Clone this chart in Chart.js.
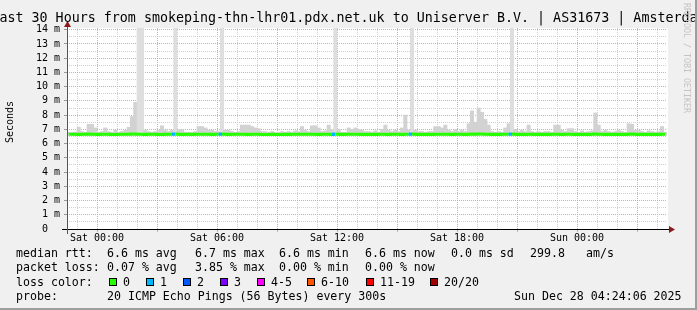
<!DOCTYPE html>
<html>
<head>
<meta charset="utf-8">
<script src="https://cdn.jsdelivr.net/npm/chart.js@4.4.1/dist/chart.umd.min.js"></script>
<style>
  html, body { margin: 0; padding: 0; background: #f0f0f0; }
  #wrap { position: relative; width: 697px; height: 310px; overflow: hidden; background: #f0f0f0;
          font-family: 'DejaVu Sans Mono', monospace; color: #000; }
  #wrap canvas { position: absolute; left: 0; top: 0; }
  .edgeR { position: absolute; right: 0; top: 0; width: 2px; height: 310px; background: #9e9e9e; }
  .edgeB { position: absolute; left: 0; bottom: 0; width: 697px; height: 2px; background: #9e9e9e; }
  .t { position: absolute; white-space: pre; }
  #title { left: 348.5px; top: 10px; transform: translateX(-50%); font-size: 13.33px; line-height: 16px; }
  #ylabel { left: -15px; top: 116px; width: 50px; text-align: center; font-size: 10px; line-height: 12px; transform: rotate(-90deg); }
  #mark { left: 682px; top: 3px; font-size: 8.3px; line-height: 10px; writing-mode: vertical-rl; color: #c4c4c4; }
  .leg { font-size: 11.6px; line-height: 14px; }
  .box { position: absolute; width: 6px; height: 6px; border: 1px solid #000; top: 278px; }
</style>
</head>
<body>
<div id="wrap">
  <canvas id="graph" width="697" height="310"></canvas>
  <div class="t" id="title">Last 30 Hours from smokeping-thn-lhr01.pdx.net.uk to Uniserver B.V. | AS31673 | Amsterdam</div>
  <div class="t" id="ylabel">Seconds</div>
  <div class="t" id="mark">RRDTOOL / TOBI OETIKER</div>
  <div id="legend"></div>
  <div class="edgeR"></div>
  <div class="edgeB"></div>
</div>
<script>
// time axis, hours from Sat 00:00
const START_H = -1.5;
const END_H = 28.5;
const STEP_H = 1 / 6; // one sample = 10 minutes

const xTickHours = [0, 6, 12, 18, 24];
const xTickText = ['Sat 00:00', 'Sat 06:00', 'Sat 12:00', 'Sat 18:00', 'Sun 00:00'];
const yTopTick = 14;

// median rtt in ms, one row = 3 hours
const medianRtt = [
  6.65, 6.66, 6.65, 6.64, 6.66, 6.65, 6.67, 6.66, 6.65, 6.64, 6.65, 6.66, 6.65, 6.63, 6.64, 6.65, 6.66, 6.65,
  6.66, 6.67, 6.68, 6.66, 6.65, 6.64, 6.65, 6.66, 6.65, 6.64, 6.63, 6.65, 6.66, 6.65, 6.67, 6.65, 6.64, 6.65,
  6.65, 6.64, 6.65, 6.66, 6.65, 6.66, 6.65, 6.64, 6.65, 6.66, 6.67, 6.65, 6.64, 6.65, 6.66, 6.65, 6.66, 6.65,
  6.64, 6.65, 6.66, 6.65, 6.64, 6.63, 6.64, 6.65, 6.64, 6.63, 6.64, 6.65, 6.64, 6.65, 6.66, 6.65, 6.66, 6.65,
  6.65, 6.66, 6.65, 6.64, 6.65, 6.66, 6.65, 6.64, 6.67, 6.65, 6.64, 6.65, 6.66, 6.65, 6.66, 6.65, 6.64, 6.65,
  6.64, 6.65, 6.64, 6.65, 6.66, 6.65, 6.64, 6.65, 6.66, 6.65, 6.64, 6.65, 6.66, 6.67, 6.65, 6.64, 6.65, 6.64,
  6.65, 6.64, 6.65, 6.66, 6.65, 6.66, 6.65, 6.64, 6.65, 6.66, 6.65, 6.64, 6.66, 6.67, 6.66, 6.68, 6.67, 6.66,
  6.65, 6.64, 6.65, 6.64, 6.65, 6.66, 6.65, 6.67, 6.65, 6.64, 6.65, 6.64, 6.66, 6.65, 6.64, 6.65, 6.64, 6.65,
  6.64, 6.65, 6.66, 6.65, 6.64, 6.65, 6.66, 6.65, 6.64, 6.65, 6.64, 6.65, 6.64, 6.65, 6.67, 6.66, 6.65, 6.64,
  6.65, 6.64, 6.65, 6.64, 6.65, 6.64, 6.66, 6.67, 6.65, 6.64, 6.65, 6.64, 6.65, 6.64, 6.65, 6.64, 6.66, 6.65
];

// smoke: fastest and slowest ping per sample, ms
const smokeLow = [
  6.58, 6.57, 6.58, 6.56, 6.58, 6.57, 6.55, 6.56, 6.58, 6.57, 6.58, 6.56, 6.58, 6.57, 6.58, 6.57, 6.56, 6.58,
  6.57, 6.56, 6.55, 6.56, 6.57, 6.58, 6.57, 6.58, 6.57, 6.56, 6.57, 6.58, 6.57, 6.58, 6.55, 6.57, 6.58, 6.57,
  6.58, 6.57, 6.58, 6.56, 6.57, 6.58, 6.57, 6.58, 6.57, 6.58, 6.55, 6.58, 6.57, 6.58, 6.57, 6.58, 6.57, 6.56,
  6.57, 6.58, 6.57, 6.58, 6.57, 6.56, 6.57, 6.58, 6.57, 6.56, 6.57, 6.58, 6.57, 6.58, 6.57, 6.58, 6.57, 6.58,
  6.58, 6.57, 6.58, 6.57, 6.58, 6.57, 6.58, 6.57, 6.55, 6.57, 6.58, 6.57, 6.58, 6.57, 6.58, 6.57, 6.58, 6.57,
  6.57, 6.58, 6.57, 6.58, 6.57, 6.58, 6.57, 6.58, 6.57, 6.58, 6.57, 6.58, 6.57, 6.55, 6.57, 6.58, 6.57, 6.58,
  6.58, 6.57, 6.58, 6.57, 6.58, 6.57, 6.58, 6.57, 6.58, 6.57, 6.58, 6.57, 6.58, 6.57, 6.58, 6.57, 6.58, 6.57,
  6.57, 6.58, 6.57, 6.58, 6.57, 6.58, 6.57, 6.55, 6.57, 6.58, 6.57, 6.58, 6.57, 6.58, 6.57, 6.58, 6.57, 6.58,
  6.58, 6.57, 6.58, 6.57, 6.58, 6.57, 6.58, 6.57, 6.58, 6.57, 6.58, 6.57, 6.58, 6.57, 6.58, 6.57, 6.58, 6.57,
  6.57, 6.58, 6.57, 6.58, 6.57, 6.58, 6.57, 6.58, 6.57, 6.58, 6.57, 6.58, 6.57, 6.58, 6.57, 6.58, 6.57, 6.58
];
const smokeHigh = [
  6.78, 6.78, 6.80, 7.15, 6.85, 6.80, 7.35, 7.35, 7.10, 6.80, 6.85, 7.10, 6.85, 6.80, 6.95, 6.80, 6.85, 6.95,
  7.15, 7.90, 8.90, 14.5, 14.5, 6.95, 6.85, 6.80, 6.85, 6.95, 7.25, 6.95, 6.85, 6.95, 14.5, 7.00, 6.95, 6.80,
  6.80, 6.80, 6.85, 7.20, 7.20, 7.10, 6.95, 6.95, 6.85, 6.85, 14.5, 6.95, 6.95, 6.85, 6.80, 6.85, 7.30, 7.30,
  7.30, 7.20, 7.10, 7.05, 6.85, 6.85, 6.80, 6.85, 6.80, 6.80, 6.85, 6.80, 6.85, 6.80, 6.90, 6.85, 7.20, 6.95,
  6.85, 7.25, 7.25, 7.10, 6.85, 6.90, 7.30, 6.95, 14.5, 7.00, 6.80, 6.80, 7.10, 7.00, 7.10, 7.00, 6.95, 6.85,
  6.85, 6.80, 6.90, 6.80, 7.00, 7.30, 6.95, 6.85, 6.95, 6.85, 7.10, 8.00, 6.95, 14.5, 6.95, 6.85, 6.85, 6.80,
  6.85, 6.85, 7.20, 7.20, 7.10, 7.30, 6.95, 6.85, 7.00, 6.85, 6.95, 6.85, 7.40, 8.30, 7.50, 8.50, 8.20, 7.70,
  7.30, 6.85, 6.80, 6.85, 6.80, 7.10, 7.40, 14.5, 7.00, 6.85, 6.95, 6.85, 7.30, 6.85, 6.80, 6.85, 6.80, 6.85,
  6.85, 6.80, 7.30, 7.30, 6.95, 6.85, 7.05, 7.05, 6.85, 6.80, 6.90, 6.80, 6.85, 6.90, 8.15, 7.30, 6.85, 6.95,
  6.85, 6.80, 6.85, 6.95, 6.85, 6.80, 7.40, 7.35, 6.95, 6.95, 6.85, 6.80, 6.90, 6.85, 6.80, 6.85, 7.20, 6.80
];

// samples that lost pings (of 20), everything else lost 0
const lossSample = [32, 46, 80, 103, 133];
const lossCount = [1, 1, 1, 1, 1];

const lossLabels = ['0', '1', '2', '3', '4-5', '6-10', '11-19', '20/20'];
const lossColors = ['#26ff00', '#00b8ff', '#0059ff', '#7e00ff', '#ff00ff', '#ff5500', '#ff0000', '#a10000'];

function lossBand(n) {
  if (n <= 3) return n;
  if (n <= 5) return 4;
  if (n <= 10) return 5;
  if (n <= 19) return 6;
  return 7;
}

const loss = medianRtt.map(() => 0);
lossSample.forEach((s, k) => { loss[s] = lossCount[k]; });

const sampleTimes = medianRtt.map((_, i) => START_H + (i + 0.5) * STEP_H);

// legend below the graph
const legendRows = [
  { top: 246, items: [[16, 'median rtt:'], [107, '6.6 ms avg'], [195, '6.7 ms max'], [279, '6.6 ms min'],
                      [365, '6.6 ms now'], [451, '0.0 ms sd'], [530, '299.8'], [586, 'am/s']] },
  { top: 260, items: [[16, 'packet loss:'], [107, '0.07 % avg'], [195, '3.85 % max'], [279, '0.00 % min'],
                      [365, '0.00 % now']] },
  { top: 275, items: [[16, 'loss color:']] },
  { top: 289, items: [[16, 'probe:'], [107, '20 ICMP Echo Pings (56 Bytes) every 300s'],
                      [514, 'Sun Dec 28 04:24:06 2025']] }
];
const lossBoxX = [109, 146, 183, 220, 257, 307, 366, 430];

const legend = document.getElementById('legend');
legendRows.forEach(row => {
  row.items.forEach(([x, text]) => {
    const d = document.createElement('div');
    d.className = 't leg';
    d.style.left = x + 'px';
    d.style.top = row.top + 'px';
    d.textContent = text;
    legend.appendChild(d);
  });
});
lossLabels.forEach((lab, i) => {
  const b = document.createElement('div');
  b.className = 'box';
  b.style.left = lossBoxX[i] + 'px';
  b.style.background = lossColors[i];
  legend.appendChild(b);
  const d = document.createElement('div');
  d.className = 't leg';
  d.style.left = (lossBoxX[i] + 14) + 'px';
  d.style.top = '275px';
  d.textContent = lab;
  legend.appendChild(d);
});

// white canvas behind the plot, axis lines with arrows on top
const rrdFrame = {
  id: 'rrdFrame',
  beforeDraw(chart) {
    const { ctx, chartArea: a } = chart;
    ctx.save();
    ctx.fillStyle = '#ffffff';
    ctx.fillRect(a.left, a.top, a.right - a.left + 1, a.bottom - a.top);
    ctx.restore();
  },
  afterDraw(chart) {
    const { ctx, chartArea: a } = chart;
    const yb = Math.round(a.bottom) + 0.5;
    const xl = Math.round(a.left) + 0.5;
    ctx.save();
    ctx.lineWidth = 1;
    ctx.strokeStyle = '#000000';
    ctx.beginPath(); ctx.moveTo(a.left - 5, yb); ctx.lineTo(a.right + 3, yb); ctx.stroke();
    ctx.strokeStyle = '#555555';
    ctx.beginPath(); ctx.moveTo(xl, a.top - 4); ctx.lineTo(xl, a.bottom + 5); ctx.stroke();
    ctx.fillStyle = '#8b1a1a';
    ctx.beginPath(); ctx.moveTo(a.right + 2, yb - 3.5); ctx.lineTo(a.right + 8, yb); ctx.lineTo(a.right + 2, yb + 3.5); ctx.closePath(); ctx.fill();
    ctx.beginPath(); ctx.moveTo(xl - 3.5, a.top - 1); ctx.lineTo(xl, a.top - 7); ctx.lineTo(xl + 3.5, a.top - 1); ctx.closePath(); ctx.fill();
    ctx.restore();
  }
};

const pink = 'rgba(222, 150, 150, 0.85)';
const grey = 'rgba(200, 200, 200, 0.85)';

new Chart(document.getElementById('graph'), {
  data: {
    datasets: [
      {
        type: 'line',
        label: 'median rtt',
        data: sampleTimes.map((t, i) => ({ x: t, y: medianRtt[i] })),
        borderColor: lossColors[0],
        borderWidth: 3,
        pointRadius: 0,
        stepped: 'middle',
        order: 0,
        segment: {
          borderColor: c => lossColors[lossBand(loss[c.p1DataIndex])]
        }
      },
      {
        type: 'bar',
        label: 'smoke',
        data: sampleTimes.map((t, i) => ({ x: t, y: [smokeLow[i], smokeHigh[i]] })),
        backgroundColor: c => (c.raw && c.raw.y[1] > 10 ? '#dedede' : '#d2d2d2'),
        borderWidth: 0,
        barPercentage: 1,
        categoryPercentage: 1,
        order: 1
      }
    ]
  },
  options: {
    responsive: false,
    animation: false,
    layout: { padding: { left: 0, right: 30, top: 28, bottom: 0 } },
    plugins: { legend: { display: false }, tooltip: { enabled: false } },
    scales: {
      x: {
        type: 'linear',
        min: START_H,
        max: END_H,
        offset: false,
        afterFit: s => { s.height = 81; },
        afterBuildTicks: s => {
          const ticks = [];
          for (let h = Math.ceil(START_H); h <= Math.floor(END_H); h++) ticks.push({ value: h });
          s.ticks = ticks;
        },
        grid: {
          offset: false,
          color: c => (c.tick.value % 3 === 0 ? pink : grey),
          tickColor: c => (c.tick.value % 3 === 0 ? pink : 'rgba(0,0,0,0)'),
          tickLength: 3,
          lineWidth: 1
        },
        border: { display: false, dash: [1, 1] },
        ticks: {
          autoSkip: false,
          maxRotation: 0,
          padding: 0,
          color: '#000',
          font: { family: 'DejaVu Sans Mono', size: 10 },
          callback: v => {
            const k = xTickHours.indexOf(v);
            return k >= 0 ? xTickText[k] : '';
          }
        }
      },
      y: {
        type: 'linear',
        min: 0,
        max: 14.12,
        afterFit: s => { s.width = 67; },
        afterBuildTicks: s => {
          const ticks = [];
          for (let v = 0; v <= yTopTick * 2; v++) ticks.push({ value: v / 2 });
          s.ticks = ticks;
        },
        grid: {
          color: c => (Number.isInteger(c.tick.value) ? pink : grey),
          tickColor: c => (Number.isInteger(c.tick.value) ? '#999' : 'rgba(0,0,0,0)'),
          tickLength: 3,
          lineWidth: 1
        },
        border: { display: false, dash: [1, 1] },
        ticks: {
          autoSkip: false,
          padding: 4,
          color: '#000',
          font: { family: 'DejaVu Sans Mono', size: 10 },
          callback: v => (Number.isInteger(v) ? (v === 0 ? '0  ' : v + ' m') : '')
        }
      }
    }
  },
  plugins: [rrdFrame]
});
</script>
</body>
</html>
